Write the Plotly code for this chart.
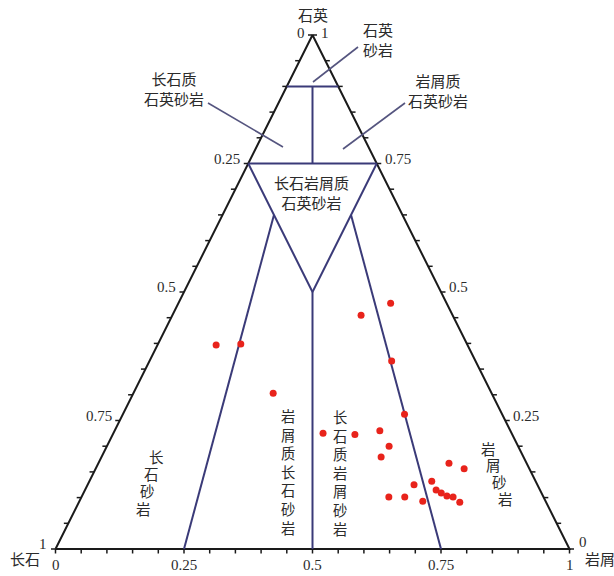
import plotly.graph_objects as go

# ---- data: sample compositions (fractions) ----
quartz = [0.397, 0.399, 0.303, 0.225, 0.223, 0.455, 0.478, 0.366, 0.262, 0.230, 0.200, 0.179,
          0.167, 0.156, 0.132, 0.125, 0.115, 0.109, 0.103, 0.101, 0.091, 0.101, 0.101, 0.093]
lithic = [0.114, 0.161, 0.272, 0.408, 0.471, 0.367, 0.413, 0.471, 0.548, 0.516, 0.549, 0.544,
          0.682, 0.717, 0.666, 0.635, 0.683, 0.696, 0.710, 0.723, 0.741, 0.598, 0.629, 0.668]
feldspar = [round(1 - q - l, 3) for q, l in zip(quartz, lithic)]

tick_values = [0.25, 0.5, 0.75]
minor_ticks = [i / 20 for i in range(21)]

# classification boundaries as (Q, F, L) end points
boundaries = [
    ((0.90, 0.10, 0.00), (0.90, 0.00, 0.10)),
    ((0.75, 0.25, 0.00), (0.75, 0.00, 0.25)),
    ((0.90, 0.05, 0.05), (0.75, 0.125, 0.125)),
    ((0.75, 0.25, 0.00), (0.50, 0.25, 0.25)),
    ((0.75, 0.00, 0.25), (0.50, 0.25, 0.25)),
    ((0.50, 0.25, 0.25), (0.00, 0.50, 0.50)),
    ((0.00, 0.75, 0.25), (0.65, 0.25, 0.10)),
    ((0.00, 0.25, 0.75), (0.65, 0.10, 0.25)),
]

# ---- geometry (body margin removed by post script) ----
W, H = 614, 576
X0, Y0, S = 55.5, 549.0, 514.0


def tern(q, f, l):
    return l + q / 2.0, q


def px(xp, yp):
    return (xp - X0) / S, (Y0 - yp) / S


INK = "#1a1a1a"
NAVY = "#3a3a78"
LEAD = "#55557f"
TXT = "#2b2b2b"
CJK = "Noto Sans CJK SC"
SERIF = "Liberation Serif"

fig = go.Figure()

# outline
ox, oy = zip(*[tern(0, 1, 0), tern(0, 0, 1), tern(1, 0, 0), tern(0, 1, 0)])
fig.add_trace(go.Scatter(x=ox, y=oy, mode="lines", line=dict(color=INK, width=2),
                         hoverinfo="skip", showlegend=False))

# ticks
tl = 4.5 / S
tx, ty = [], []
for t in minor_ticks:
    bx, by = tern(0, 1 - t, t)
    tx += [bx, bx, None]; ty += [by, by - tl, None]
    lx, ly = tern(t, 1 - t, 0)
    tx += [lx, lx - tl, None]; ty += [ly, ly, None]
    rx, ry = tern(t, 0, 1 - t)
    tx += [rx, rx + tl, None]; ty += [ry, ry, None]
fig.add_trace(go.Scatter(x=tx, y=ty, mode="lines", line=dict(color=INK, width=1.5),
                         hoverinfo="skip", showlegend=False))

# boundaries
bxs, bys = [], []
for a, b in boundaries:
    x1, y1 = tern(*a); x2, y2 = tern(*b)
    bxs += [x1, x2, None]; bys += [y1, y2, None]
fig.add_trace(go.Scatter(x=bxs, y=bys, mode="lines", line=dict(color=NAVY, width=2),
                         hoverinfo="skip", showlegend=False))

# leader lines
leaders = [((313, 82), (358, 47)), ((208, 103), (283, 147)), ((405, 103), (343, 149))]
lxs, lys = [], []
for p1, p2 in leaders:
    a = px(*p1); b = px(*p2)
    lxs += [a[0], b[0], None]; lys += [a[1], b[1], None]
fig.add_trace(go.Scatter(x=lxs, y=lys, mode="lines", line=dict(color=LEAD, width=1.6),
                         hoverinfo="skip", showlegend=False))

# samples
sx, sy = zip(*[tern(q, f, l) for q, f, l in zip(quartz, feldspar, lithic)])
fig.add_trace(go.Scatter(x=sx, y=sy, mode="markers",
                         marker=dict(color="#e8231b", size=7, line=dict(width=0)),
                         showlegend=False))

ann = []


def add_text(x, y, text, size=15, font=SERIF, xa="center", ya="middle", xs=0, ys=0):
    ann.append(dict(x=x, y=y, xref="x", yref="y", text=text, showarrow=False,
                    xanchor=xa, yanchor=ya, xshift=xs, yshift=ys, borderpad=0,
                    font=dict(family=font, size=size, color=TXT)))


# tick labels: left edge shows feldspar, right edge quartz, bottom lithic
for t in tick_values:
    lx, ly = tern(t, 1 - t, 0)
    add_text(lx, ly, f"{1 - t:g}", xa="right", xs=-7, ys=5)
    rx, ry = tern(t, 0, 1 - t)
    add_text(rx, ry, f"{t:g}", xa="left", xs=7, ys=5)
    bx, by = tern(0, 1 - t, t)
    add_text(bx, by, f"{t:g}", ys=-16)

ax_, ay_ = tern(1, 0, 0)
add_text(ax_, ay_, "0", xa="right", xs=-7, ys=2)
add_text(ax_, ay_, "1", xa="left", xs=7, ys=2)
blx, bly = tern(0, 1, 0)
add_text(blx, bly, "1", xa="right", xs=-8, ys=5)
add_text(blx, bly, "0", ys=-16)
brx, bry = tern(0, 0, 1)
add_text(brx, bry, "0", xa="left", xs=8, ys=7)
add_text(brx, bry, "1", ys=-16)

# vertex titles
add_text(ax_, ay_, "石英", size=15, font=CJK, ys=21)
add_text(blx, bly, "长石", size=15, font=CJK, xa="right", xs=-15, ys=-9)
add_text(brx, bry, "岩屑", size=15, font=CJK, xa="left", xs=14, ys=-9)


def field(xp, yp, text, size=15):
    x, y = px(xp, yp)
    add_text(x, y, text, size=size, font=CJK)


field(378, 39, "石英<br>砂岩")
field(174, 88, "长石质<br>石英砂岩")
field(438, 90, "岩屑质<br>石英砂岩")
field(311, 192, "长石岩屑质<br>石英砂岩")


def column(text, start, end, size=15):
    n = len(text)
    for i, ch in enumerate(text):
        f = i / (n - 1)
        field(start[0] + (end[0] - start[0]) * f, start[1] + (end[1] - start[1]) * f, ch, size)


def stack(text, xp, y_mid, size=14.3):
    field(xp, y_mid, "<br>".join(text), size)


column("长石砂岩", (156, 456), (143, 508), 14.5)
stack("岩屑质长石砂岩", 288, 471.5)
stack("长石质岩屑砂岩", 340, 472.5)
column("岩屑砂岩", (488, 448), (505, 498), 14.5)

xr = [(0 - X0) / S, (W - X0) / S]
yr = [(Y0 - H) / S, Y0 / S]
fig.update_layout(
    width=W, height=H, margin=dict(l=0, r=0, t=0, b=0),
    paper_bgcolor="white", plot_bgcolor="white",
    xaxis=dict(range=xr, visible=False, fixedrange=True),
    yaxis=dict(range=yr, visible=False, fixedrange=True),
    annotations=ann, showlegend=False,
)
fig.write_html("out.html", config={"displayModeBar": False},
               post_script="document.body.style.margin='0px';document.body.style.overflow='hidden';")
